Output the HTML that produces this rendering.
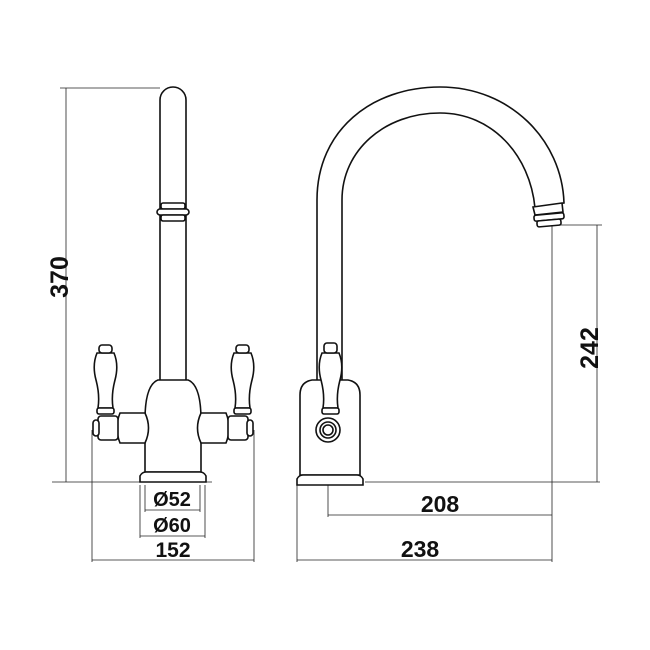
<!DOCTYPE html>
<html><head><meta charset="utf-8"><style>
html,body{margin:0;padding:0;background:#fff;}
svg{display:block}
text{font-family:"Liberation Sans",sans-serif;font-weight:bold;fill:#111;}
</style></head><body>
<svg width="650" height="650" viewBox="0 0 650 650" xmlns="http://www.w3.org/2000/svg">
<g fill="none" stroke="#222" stroke-width="0.8">
<line x1="60" y1="88" x2="160" y2="88"/>
<line x1="66" y1="88" x2="66" y2="482"/>
<line x1="52" y1="482" x2="212" y2="482"/>
<line x1="365" y1="482" x2="600" y2="482"/>
<line x1="550" y1="225" x2="602" y2="225"/>
<line x1="597" y1="225" x2="597" y2="482"/>
<line x1="552" y1="225" x2="552" y2="562"/>
<line x1="92" y1="430" x2="92" y2="562"/>
<line x1="254" y1="430" x2="254" y2="562"/>
<line x1="92" y1="560" x2="254" y2="560"/>
<line x1="297" y1="485" x2="297" y2="562"/>
<line x1="297" y1="560" x2="552" y2="560"/>
<line x1="328" y1="485" x2="328" y2="517"/>
<line x1="328" y1="515" x2="552" y2="515"/>
<line x1="140" y1="485" x2="140" y2="538"/>
<line x1="205" y1="485" x2="205" y2="538"/>
<line x1="145" y1="485" x2="145" y2="512"/>
<line x1="200" y1="485" x2="200" y2="512"/>
<line x1="145" y1="510" x2="200" y2="510"/>
<line x1="140" y1="536" x2="205" y2="536"/>
</g>
<g fill="#fff" stroke="#111" stroke-width="1.6">
<path d="M160 380 L160 100 A13 13 0 0 1 186 100 L186 380"/>
<rect x="161" y="203" width="24" height="6" rx="2"/>
<rect x="157" y="209" width="32" height="6" rx="3"/>
<rect x="161" y="215" width="24" height="6" rx="2"/>
<path d="M145 472 L145 420 Q145 385 158 380 L188 380 Q201 385 201 420 L201 472 Z"/>
<path d="M140 482 L140 476 Q142 472 146 472 L200 472 Q204 472 206 476 L206 482 Z"/>
<path d="M145 413 L120 413 Q114 428 120 443 L145 443 Q152 428 145 413 Z"/>
<path d="M201 413 L226 413 Q232 428 226 443 L201 443 Q194 428 201 413 Z"/>
<rect x="98" y="416" width="20" height="24" rx="3"/>
<rect x="93" y="420" width="6" height="16" rx="3"/>
<rect x="228" y="416" width="20" height="24" rx="3"/>
<rect x="247" y="420" width="6" height="16" rx="3"/>
<path d="M97 353 Q92 365 96 380 Q100 395 98 408 L113 408 Q111 395 115 380 Q119 365 114 353 Z"/>
<rect x="99" y="345" width="13" height="8" rx="3"/>
<rect x="97" y="408" width="17" height="6" rx="2"/>
<path d="M234 353 Q229 365 233 380 Q237 395 235 408 L250 408 Q248 395 252 380 Q256 365 251 353 Z"/>
<rect x="236" y="345" width="13" height="8" rx="3"/>
<rect x="234" y="408" width="17" height="6" rx="2"/>
<path d="M317 380 L317 200 C317 130 372 87 440 87 C510 87 562 140 564 203 L535 208 C530 155 492 113 440 113 C385 113 342 150 342 200 L342 380"/>
<path d="M533 207 L562 203 L563 212 L535 215 Z"/>
<rect x="534" y="214" width="30" height="6" rx="2" transform="rotate(-5 549 217)"/>
<rect x="537" y="220" width="24" height="6" rx="2" transform="rotate(-5 549 223)"/>
<path d="M300 475 L300 395 Q300 382 312 380 L348 380 Q360 382 360 395 L360 475 Z"/>
<path d="M297 485 L297 479 Q299 475 303 475 L357 475 Q361 475 363 479 L363 485 Z"/>
<circle cx="328" cy="430" r="12"/>
<circle cx="328" cy="430" r="8"/>
<circle cx="328" cy="430" r="5"/>
<path d="M322 353 Q317 365 321 380 Q325 395 323 408 L338 408 Q336 395 340 380 Q344 365 339 353 Z"/>
<rect x="324" y="343" width="13" height="10" rx="3"/>
<rect x="322" y="408" width="17" height="6" rx="2"/>
</g>
<text x="68" y="277" font-size="25" text-anchor="middle" transform="rotate(-90 68 277)">370</text>
<text x="598" y="348" font-size="25" text-anchor="middle" transform="rotate(-90 598 348)">242</text>
<text x="172" y="506" font-size="20" text-anchor="middle">Ø52</text>
<text x="172" y="532" font-size="20" text-anchor="middle">Ø60</text>
<text x="173" y="557" font-size="21" text-anchor="middle">152</text>
<text x="440" y="512" font-size="23" text-anchor="middle">208</text>
<text x="420" y="557" font-size="23" text-anchor="middle">238</text>
</svg>
</body></html>
